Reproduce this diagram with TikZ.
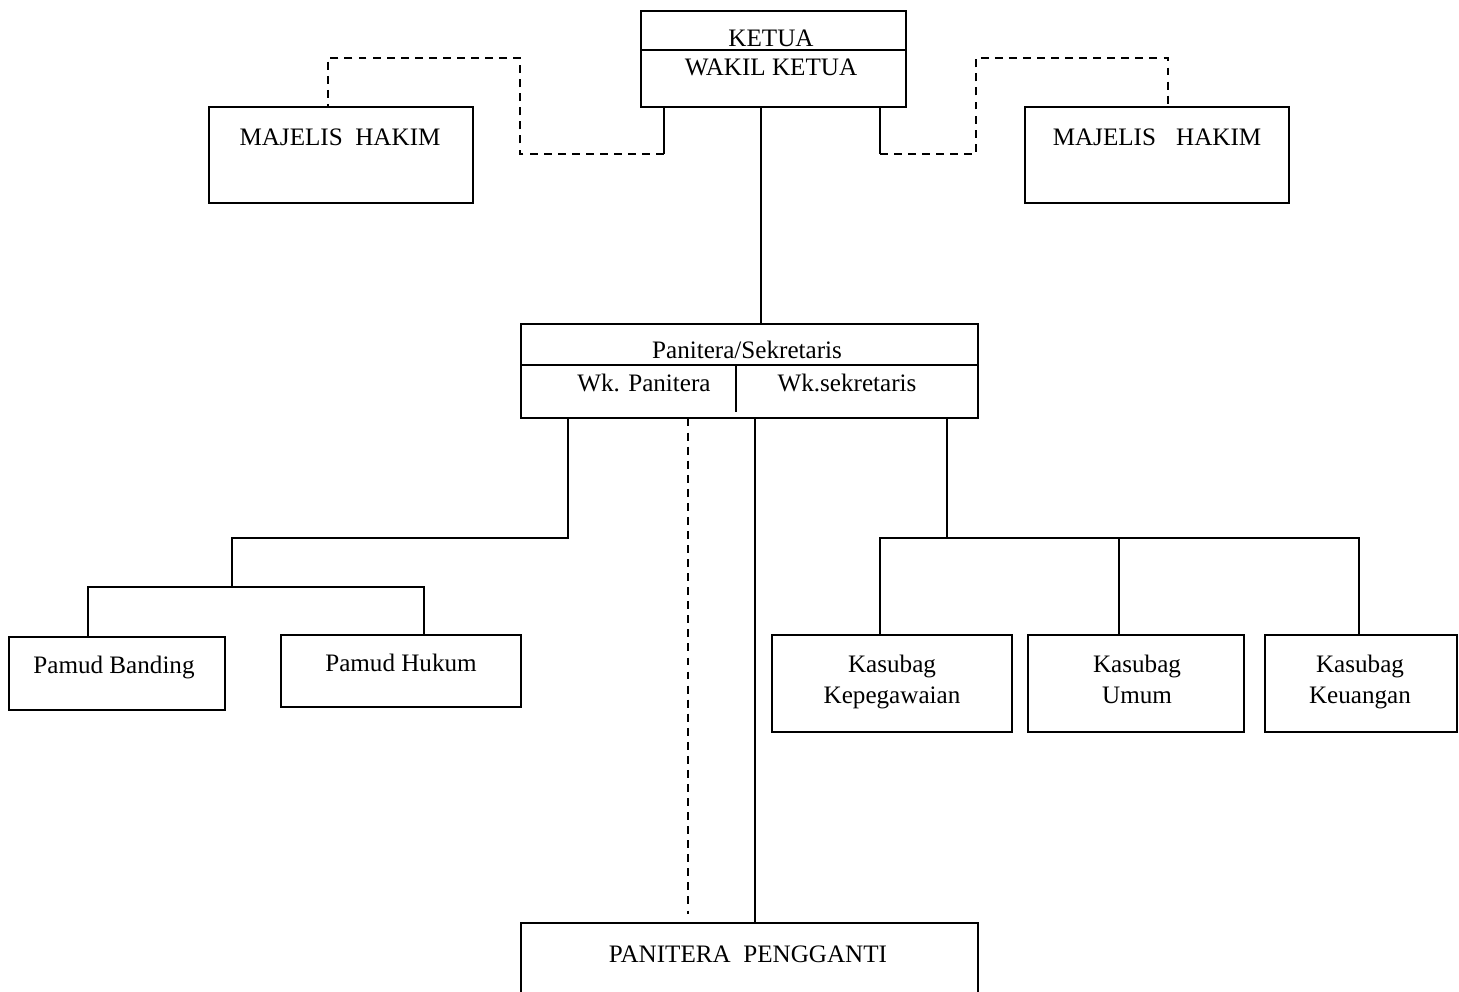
\documentclass[tikz,border=0pt]{standalone}
\usepackage{fontspec}
\setmainfont{Liberation Serif}
\usetikzlibrary{positioning}

\begin{document}
\begin{tikzpicture}[x=0.02cm, y=-0.02cm,
        kotak/.style={draw, line width=0.9pt, anchor=north west, inner sep=0pt},
        teks/.style={font=\fontsize{14.3}{17.5}\selectfont, inner sep=0pt,
                     anchor=base, align=center},
        garis/.style={line width=0.9pt},
        putus/.style={line width=0.9pt, dash pattern=on 4.5pt off 3.5pt}
    ]
        \useasboundingbox (0,0) rectangle (1459,991);

        % kotak-kotak
        \node[kotak, minimum width=5.30cm, minimum height=1.92cm] (ketua) at (640,10)  {};
        \node[kotak, minimum width=5.28cm, minimum height=1.92cm] (mhl)   at (208,106) {};
        \node[kotak, minimum width=5.28cm, minimum height=1.92cm] (mhr)   at (1024,106) {};
        \node[kotak, minimum width=9.14cm, minimum height=1.88cm] (pan)   at (520,323) {};
        \node[kotak, minimum width=4.32cm, minimum height=1.46cm] (pb)    at (8,636)   {};
        \node[kotak, minimum width=4.80cm, minimum height=1.44cm] (ph)    at (280,634) {};
        \node[kotak, minimum width=4.80cm, minimum height=1.94cm] (kp)    at (771,634) {};
        \node[kotak, minimum width=4.32cm, minimum height=1.94cm] (ku)    at (1027,634) {};
        \node[kotak, minimum width=3.84cm, minimum height=1.94cm] (kk)    at (1264,634) {};
        \node[kotak, minimum width=9.14cm, minimum height=2.00cm] (pp)    at (520,922) {};

        % garis pembagi
        \draw[garis] (ketua.west |- 0,50) -- (ketua.east |- 0,50);
        \draw[garis] (pan.west |- 0,365) -- (pan.east |- 0,365);
        \draw[garis] (736,365) -- (736,412);

        % teks
        \node[teks] (tketua) at (771,46)  {KETUA};
        \node[teks] (twakil) at (771,75)  {WAKIL KETUA};
        \node[teks] (tmhl)   at (340,145) {MAJELIS\hspace{0.5em}HAKIM};
        \node[teks] (tmhr)   at (1157,145) {MAJELIS\hspace{0.8em}HAKIM};
        \node[teks] (tpan)   at (747,358) {Panitera/Sekretaris};
        \node[teks] (twkp)   at (644,391) {Wk. Panitera};
        \node[teks] (twks)   at (847,391) {Wk.sekretaris};
        \node[teks] (tpb)    at (114,673) {Pamud Banding};
        \node[teks] (tph)    at (401,671) {Pamud Hukum};
        \node[teks] (tkp)    at (892,703) {Kasubag\\Kepegawaian};
        \node[teks] (tku)    at (1137,703) {Kasubag\\Umum};
        \node[teks] (tkk)    at (1360,703) {Kasubag\\Keuangan};
        \node[teks] (tpp)    at (748,962) {PANITERA\hspace{0.5em}PENGGANTI};

        % ketua ke bawah
        \coordinate (kl1) at (664,154);
        \coordinate (kl2) at (520,58);
        \coordinate (kr1) at (880,154);
        \coordinate (kr2) at (976,58);
        \draw[garis] (ketua.south -| 761,0) -- (pan.north -| 761,0);
        \draw[garis] (ketua.south -| kl1) -- (kl1);
        \draw[putus] (kl1) -| (kl2) -| (mhl.north -| 328,0);
        \draw[garis] (ketua.south -| kr1) -- (kr1);
        \draw[putus] (kr1) -| (kr2) -| (mhr.north -| 1168,0);

        % panitera ke bawah
        \coordinate (cb) at (232,587);
        \coordinate (ck) at (947,538);
        \draw[garis] (pan.south -| 568,0) |- (232,538) -- (cb);
        \draw[garis] (pb.north -| 88,0) |- (cb) -| (ph.north -| 424,0);
        \draw[garis] (pan.south -| ck) -- (ck);
        \draw[garis] (kp.north -| 880,0) |- (1359,538) -- (kk.north -| 1359,0);
        \draw[garis] (ku.north -| 1119,0) -- (1119,538);
        \draw[putus] (pan.south -| 688,0) -- (688,914);
        \draw[garis] (pan.south -| 755,0) -- (pp.north -| 755,0);
    \end{tikzpicture}
\end{document}
